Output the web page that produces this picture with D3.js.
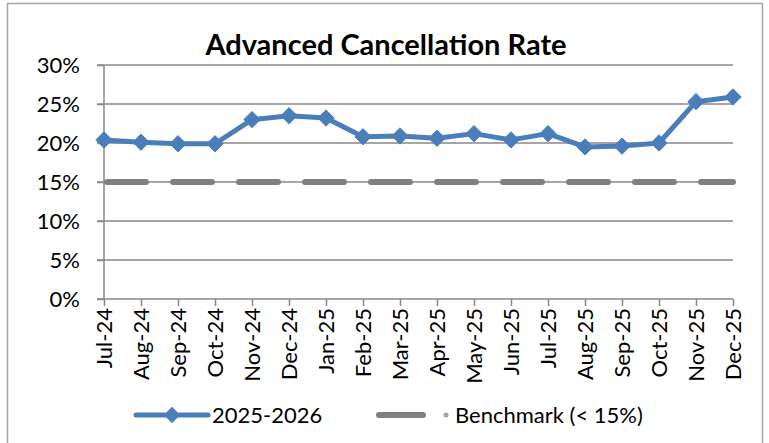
<!DOCTYPE html>
<html>
<head>
<meta charset="utf-8">
<script src="https://cdn.jsdelivr.net/npm/d3@7/dist/d3.min.js"></script>
<style>
  html, body { margin: 0; padding: 0; background: #fff; }
  svg { display: block; }
  text { font-family: Lato, "Liberation Sans", sans-serif; fill: #000; }
</style>
</head>
<body>
<svg id="chart" width="769" height="443"></svg>
<script>
const months = ["Jul-24","Aug-24","Sep-24","Oct-24","Nov-24","Dec-24","Jan-25","Feb-25","Mar-25","Apr-25","May-25","Jun-25","Jul-25","Aug-25","Sep-25","Oct-25","Nov-25","Dec-25"];
const rate = [0.204,0.201,0.199,0.199,0.230,0.235,0.232,0.208,0.209,0.206,0.212,0.204,0.212,0.195,0.196,0.200,0.253,0.259];
const benchmark = [0.15,0.15,0.15,0.15,0.15,0.15,0.15,0.15,0.15,0.15,0.15,0.15,0.15,0.15,0.15,0.15,0.15,0.15];
const yTicks = [0,0.05,0.10,0.15,0.20,0.25,0.30];
const title = "Advanced Cancellation Rate";
const seriesNames = ["2025-2026","Benchmark (< 15%)"];

const svg = d3.select("#chart");
const BLUE = "#4a7ebb", GRAY = "#808080", GRID = "#888888";

// chart border
svg.append("rect").attr("x",7.5).attr("y",3.5).attr("width",755).attr("height",450)
  .attr("fill","#fff").attr("stroke","#a6a6a6").attr("stroke-width",1.5);

const x = d3.scalePoint().domain(months).range([104, 733]);
const y = d3.scaleLinear().domain([0, 0.30]).range([299, 65]);

// gridlines
svg.append("g").selectAll("line").data(yTicks.filter(d=>d>0)).join("line")
  .attr("x1",97).attr("x2",733).attr("y1",d=>y(d)).attr("y2",d=>y(d))
  .attr("stroke",GRID).attr("stroke-width",1.5);

// y axis
const yAxis = svg.append("g").attr("transform","translate(104,0)")
  .call(d3.axisLeft(y).tickValues(yTicks).tickFormat(d3.format(".0%")).tickSize(7).tickPadding(17));
yAxis.select(".domain").attr("stroke",GRID).attr("stroke-width",1.5).attr("d","M0,65V299");
yAxis.selectAll(".tick line").attr("stroke",GRID).attr("stroke-width",1.5);
yAxis.selectAll(".tick text").attr("font-size",22).attr("font-family","Lato, sans-serif").attr("fill","#000");

// x axis
const xAxis = svg.append("g").attr("transform","translate(0,299)")
  .call(d3.axisBottom(x).tickSize(7).tickPadding(10));
xAxis.select(".domain").attr("stroke",GRID).attr("stroke-width",1.5).attr("d","M97,0H733");
xAxis.selectAll(".tick line").attr("stroke",GRID).attr("stroke-width",1.5);
xAxis.selectAll(".tick text")
  .attr("font-size",22).attr("font-family","Lato, sans-serif").attr("fill","#000")
  .attr("text-anchor","end").attr("dy","0.35em")
  .attr("transform","translate(0,9) rotate(-90)")
  .attr("x",0).attr("y",0);

// benchmark line
const line = d3.line().x((d,i)=>x(months[i])).y(d=>y(d));
svg.append("path").datum(benchmark).attr("d",line)
  .attr("fill","none").attr("stroke",GRAY).attr("stroke-width",6)
  .attr("stroke-linecap","round").attr("stroke-dasharray","39 27").attr("stroke-dashoffset",-3);

// series line
svg.append("path").datum(rate).attr("d",line)
  .attr("fill","none").attr("stroke",BLUE).attr("stroke-width",5).attr("stroke-linejoin","round");

const diamond = d3.symbol().type(d3.symbolDiamond2).size(170);
svg.append("g").selectAll("path").data(rate).join("path")
  .attr("d",diamond)
  .attr("transform",(d,i)=>`translate(${x(months[i])},${y(d)})`)
  .attr("fill",BLUE).attr("stroke",BLUE).attr("stroke-width",1);

// title
svg.append("text").attr("x",386).attr("y",55).attr("text-anchor","middle")
  .attr("font-size",29).attr("font-weight","bold").text(title);

// legend
const lg = svg.append("g");
lg.append("line").attr("x1",136).attr("x2",208).attr("y1",415).attr("y2",415)
  .attr("stroke",BLUE).attr("stroke-width",5).attr("stroke-linecap","round");
lg.append("path").attr("d",diamond).attr("transform","translate(172,415)").attr("fill",BLUE);
lg.append("text").attr("x",212).attr("y",423).attr("font-size",22).text(seriesNames[0]);
lg.append("line").attr("x1",379).attr("x2",423).attr("y1",415).attr("y2",415)
  .attr("stroke",GRAY).attr("stroke-width",6).attr("stroke-linecap","round");
lg.append("circle").attr("cx",446).attr("cy",415).attr("r",2.5).attr("fill","#a0a0a0");
lg.append("text").attr("x",455).attr("y",423).attr("font-size",22).text(seriesNames[1]);
</script>
</body>
</html>
